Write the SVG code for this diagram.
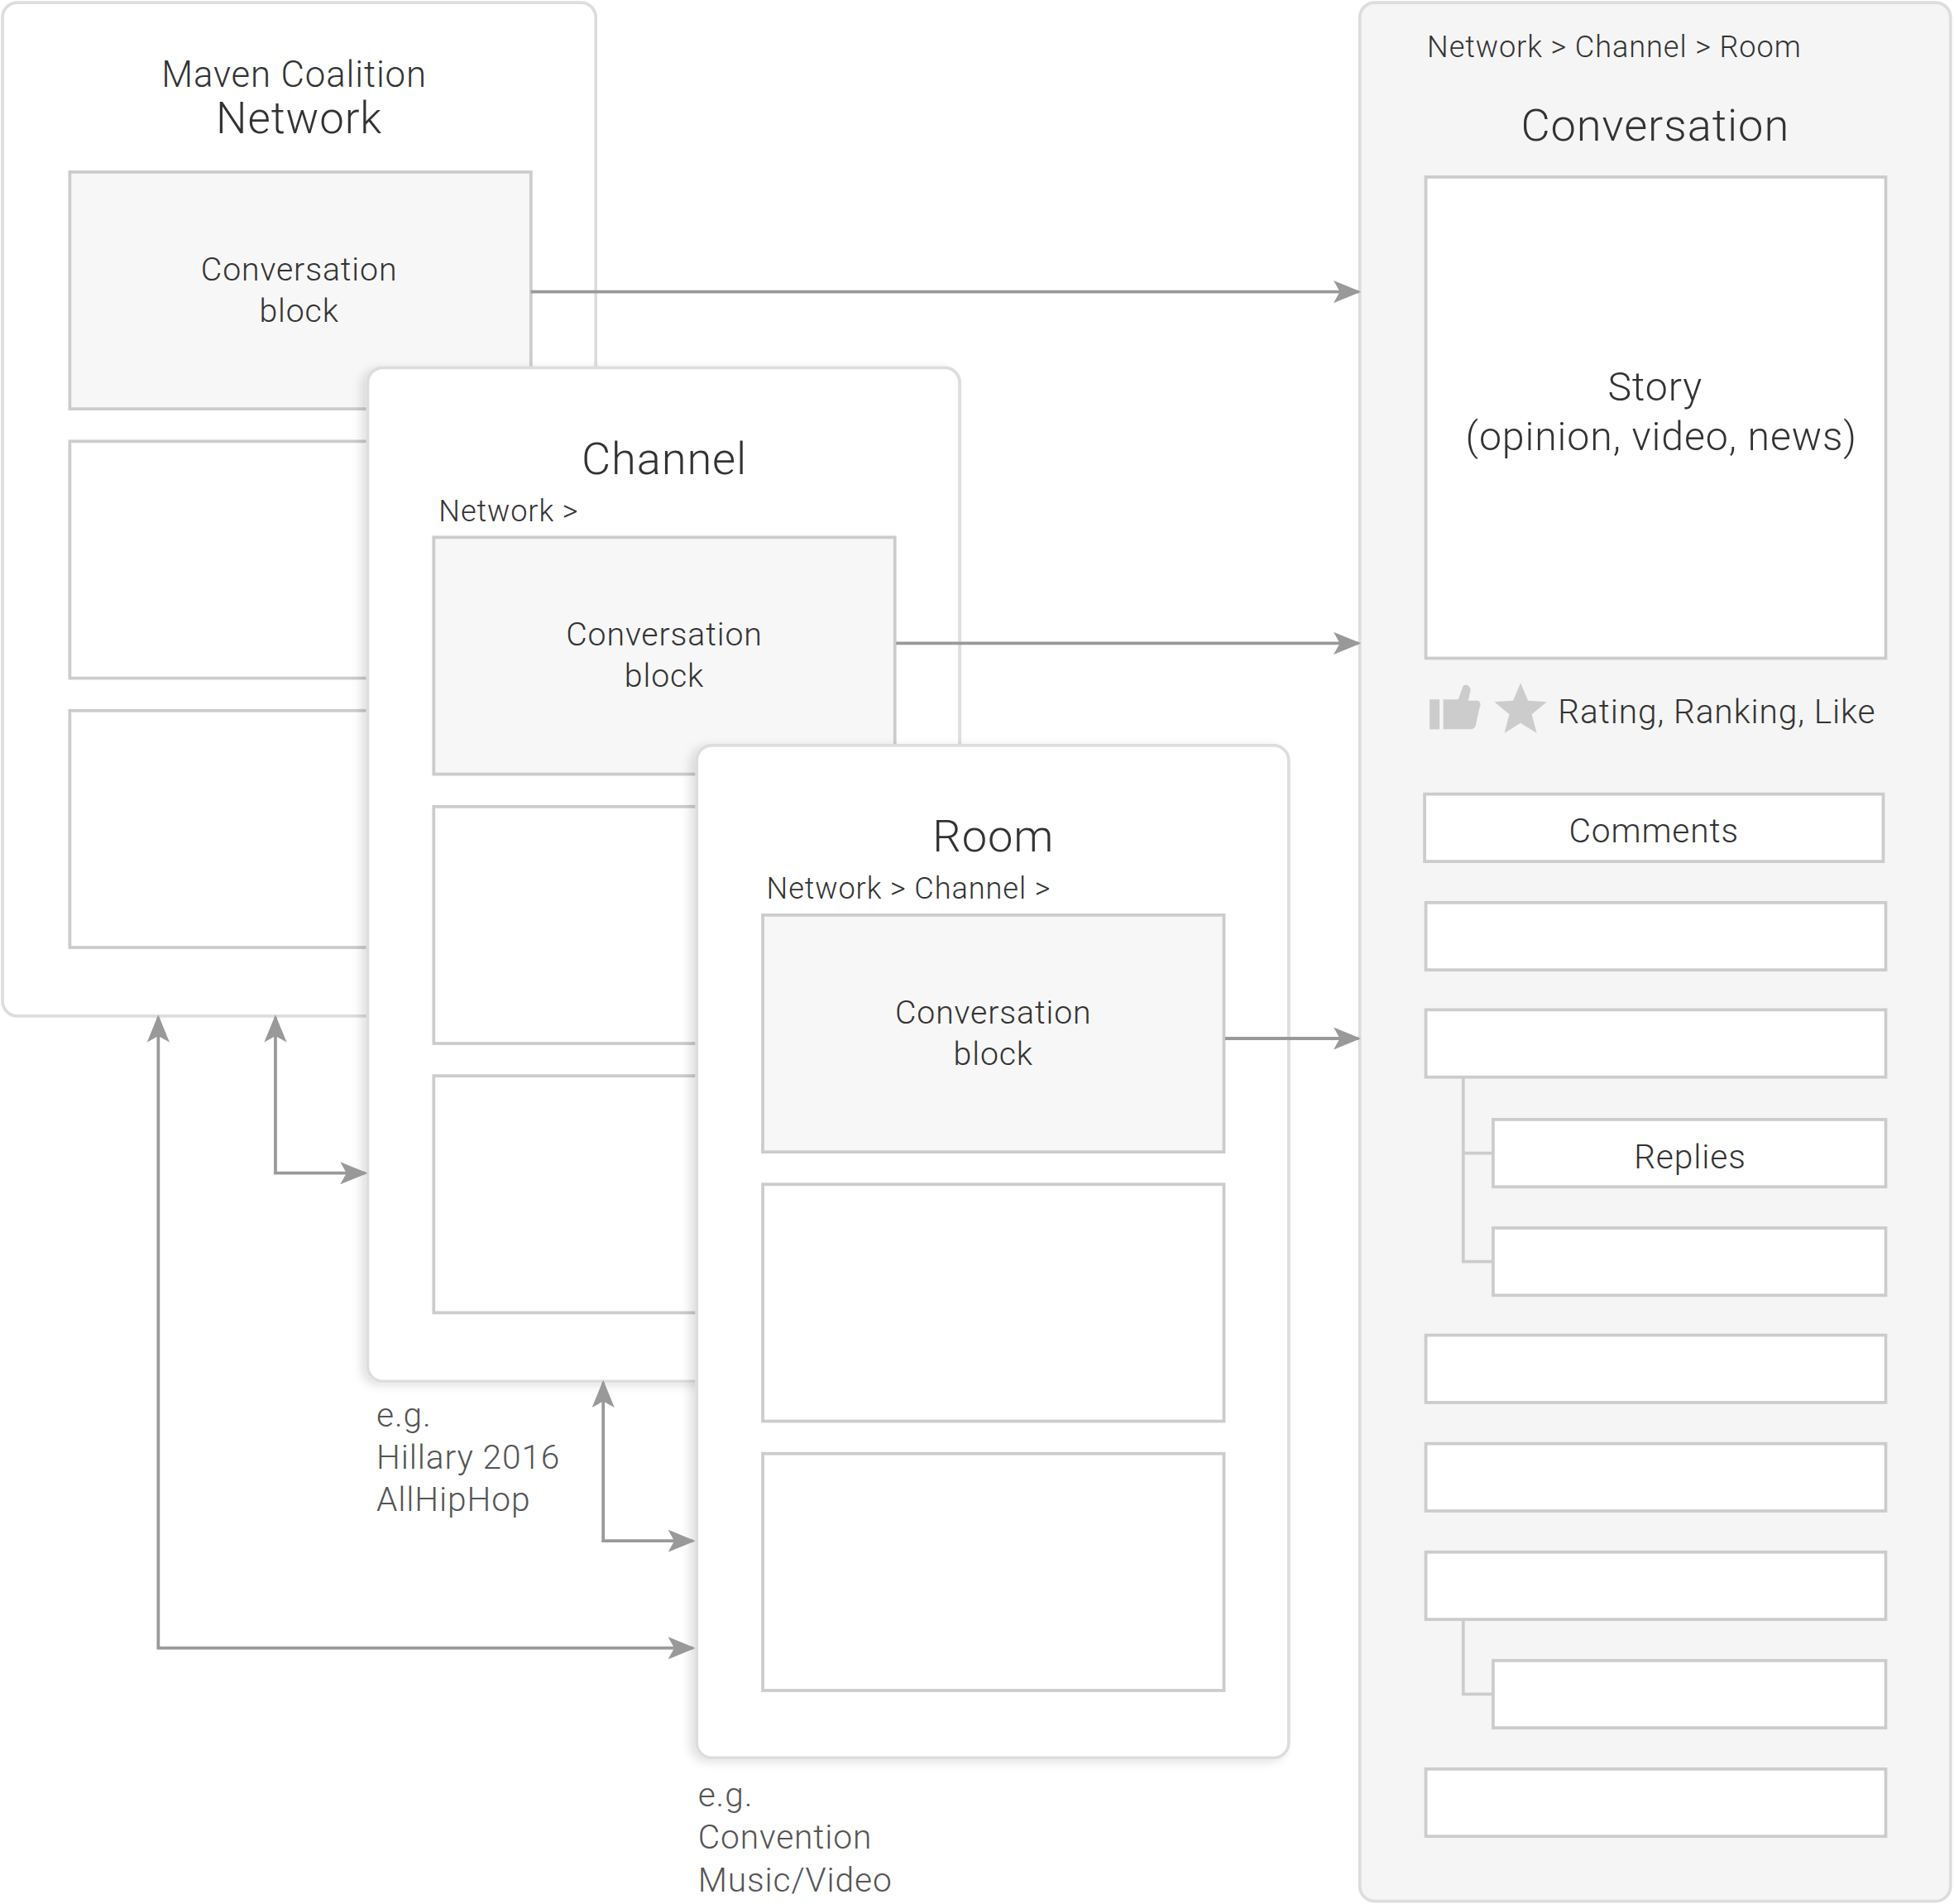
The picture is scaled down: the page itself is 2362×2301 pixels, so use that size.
<svg xmlns="http://www.w3.org/2000/svg" width="2362" height="2301" viewBox="0 0 2362 2301">
<style>
text{font-family:Roboto,"Liberation Sans",sans-serif;font-weight:300;fill:#333;letter-spacing:0.6px}
.panel{fill:#fff;stroke:#ddd;stroke-width:2.5}
.gb{fill:#f7f7f7;stroke:#ccc;stroke-width:2.5}
.wb{fill:#fff;stroke:#ccc;stroke-width:2.5}
.c{text-anchor:middle}
.ar{fill:none;stroke:#999;stroke-width:2.5}
.tl{fill:none;stroke:#ccc;stroke-width:2.5}
.eg{font-size:27px;fill:#555}
</style>
<defs>
<marker id="ah" viewBox="0 0 22 18" refX="20" refY="9" markerWidth="22" markerHeight="18" markerUnits="userSpaceOnUse" orient="auto-start-reverse"><path d="M0,0L22,9L0,18L5,9z" fill="#999"/></marker>
<filter id="sh" x="-10%" y="-5%" width="120%" height="110%"><feDropShadow dx="-4" dy="2" stdDeviation="4" flood-color="#000" flood-opacity="0.12"/></filter>
</defs>
<rect width="2362" height="2301" fill="#fff"/>
<g transform="scale(1.5066)">
<g id="network">
<rect class="panel" x="2" y="2" width="476" height="813" rx="12"/>
<text class="c" x="236" y="70" font-size="29">Maven Coalition</text>
<text class="c" x="240" y="107" font-size="35">Network</text>
<rect class="gb" x="56" y="138" width="370" height="190"/>
<text class="c" x="240" y="225" font-size="26">Conversation</text>
<text class="c" x="240" y="258" font-size="26">block</text>
<rect class="wb" x="56" y="354" width="370" height="190"/>
<rect class="wb" x="56" y="570" width="370" height="190"/>
</g>
<g id="channel">
<rect class="panel" x="295" y="295" width="475" height="813" rx="12" filter="url(#sh)"/>
<text class="c" x="533" y="380" font-size="36">Channel</text>
<text x="352" y="418" font-size="24">Network &gt;</text>
<rect class="gb" x="348" y="431" width="370" height="190"/>
<text class="c" x="533" y="518" font-size="26">Conversation</text>
<text class="c" x="533" y="551" font-size="26">block</text>
<rect class="wb" x="348" y="647" width="370" height="190"/>
<rect class="wb" x="348" y="863" width="370" height="190"/>
</g>
<g id="room">
<rect class="panel" x="559" y="598" width="475" height="812" rx="12" filter="url(#sh)"/>
<text class="c" x="797" y="683" font-size="36">Room</text>
<text x="615" y="721" font-size="24">Network &gt; Channel &gt;</text>
<rect class="gb" x="612" y="734" width="370" height="190"/>
<text class="c" x="797" y="821" font-size="26">Conversation</text>
<text class="c" x="797" y="854" font-size="26">block</text>
<rect class="wb" x="612" y="950" width="370" height="190"/>
<rect class="wb" x="612" y="1166" width="370" height="190"/>
</g>
<g id="conversation">
<rect x="1091" y="2" width="474" height="1523" rx="12" fill="#f5f5f5" stroke="#ddd" stroke-width="2.5"/>
<text x="1145" y="46" font-size="24">Network &gt; Channel &gt; Room</text>
<text class="c" x="1328" y="113" font-size="36">Conversation</text>
<rect class="wb" x="1144" y="142" width="369" height="386"/>
<text class="c" x="1328" y="321" font-size="32">Story</text>
<text class="c" x="1333" y="361" font-size="32">(opinion, video, news)</text>
<g fill="#ccc">
<rect x="1147" y="561" width="8" height="24"/>
<path d="M1158,561 L1170,561 L1174,550 Q1178,548 1180,553 L1178,562 L1186,562 Q1189,564 1187,568 L1184,582 Q1183,585 1180,585 L1158,585 Z"/>
<path d="M1220,548 L1226,562 L1241,563 L1229,573 L1233,588 L1220,580 L1207,588 L1211,573 L1199,563 L1214,562 Z"/>
</g>
<text x="1250" y="580" font-size="27">Rating, Ranking, Like</text>
<rect class="wb" x="1143" y="637" width="368" height="54"/>
<text class="c" x="1327" y="676" font-size="27">Comments</text>
<rect class="wb" x="1144" y="724" width="369" height="54"/>
<rect class="wb" x="1144" y="810" width="369" height="54"/>
<path class="tl" d="M1174,864V1012H1198M1174,925H1198"/>
<rect class="wb" x="1198" y="898" width="315" height="54"/>
<text class="c" x="1356" y="937" font-size="27">Replies</text>
<rect class="wb" x="1198" y="985" width="315" height="54"/>
<rect class="wb" x="1144" y="1071" width="369" height="54"/>
<rect class="wb" x="1144" y="1158" width="369" height="54"/>
<rect class="wb" x="1144" y="1245" width="369" height="54"/>
<path class="tl" d="M1174,1299V1359H1198"/>
<rect class="wb" x="1198" y="1332" width="315" height="54"/>
<rect class="wb" x="1144" y="1419" width="369" height="54"/>
</g>
<g id="connectors">
<path class="ar" d="M426,234H1090" marker-end="url(#ah)"/>
<path class="ar" d="M719,516H1090" marker-end="url(#ah)"/>
<path class="ar" d="M983,833H1090" marker-end="url(#ah)"/>
<path class="ar" d="M221,816V941H293" marker-start="url(#ah)" marker-end="url(#ah)"/>
<path class="ar" d="M127,816V1322H556" marker-start="url(#ah)" marker-end="url(#ah)"/>
<path class="ar" d="M484,1109V1236H556" marker-start="url(#ah)" marker-end="url(#ah)"/>
</g>
<g id="notes">
<text class="eg" x="302" y="1144">e.g.</text>
<text class="eg" x="302" y="1178">Hillary 2016</text>
<text class="eg" x="302" y="1212">AllHipHop</text>
<text class="eg" x="560" y="1449">e.g.</text>
<text class="eg" x="560" y="1483">Convention</text>
<text class="eg" x="560" y="1517">Music/Video</text>
</g>
</g>
</svg>
